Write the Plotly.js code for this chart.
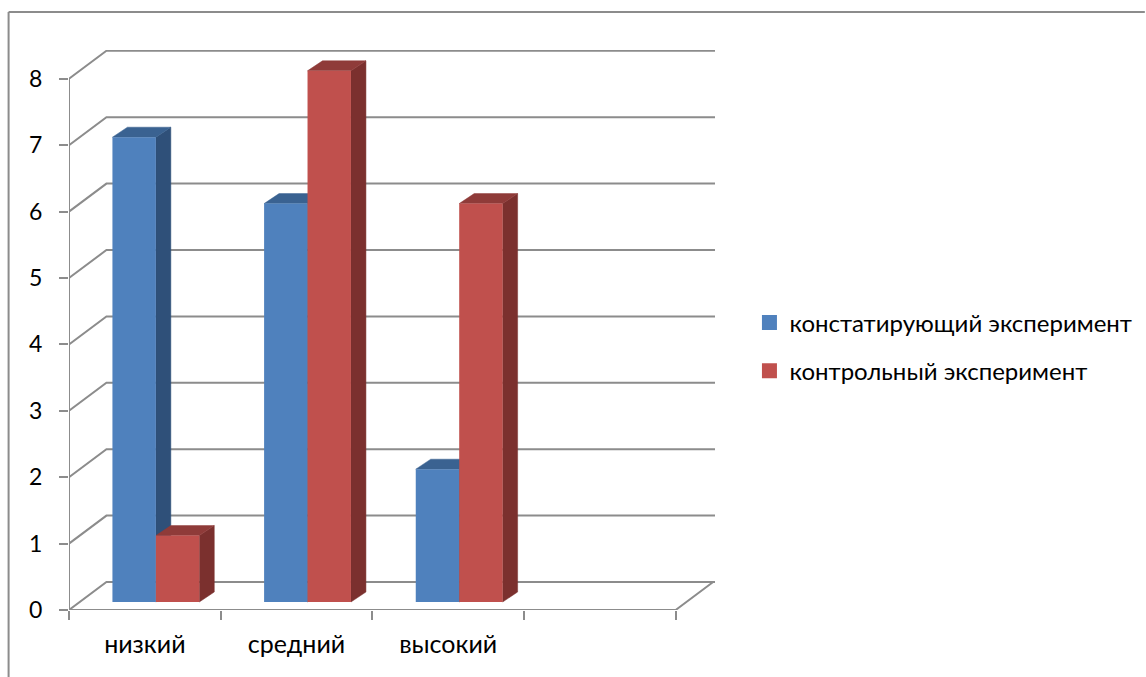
<!DOCTYPE html>
<html><head><meta charset="utf-8">
<script src="https://cdn.plot.ly/plotly-3.0.1.min.js"></script>
<style>html,body{margin:0;padding:0;background:#fff}</style></head>
<body><div id="chart" style="width:1146px;height:677px"></div>
<script>
const categories = ['низкий', 'средний', 'высокий'];
const seriesNames = ['констатирующий эксперимент', 'контрольный эксперимент'];
const series1 = [7, 6, 2];
const series2 = [1, 8, 6];
const yTicks = [0, 1, 2, 3, 4, 5, 6, 7, 8];
const xTickEdges = [0, 1, 2, 3, 4];
const frontColors = ['#4F81BD', '#C0504D'];
const topColors = ['#3A6291', '#8F3B39'];
const sideColors = ['#2F5079', '#7B302E'];

const GRID = '#8C8C8C';
const pxX = 151.9, pxY = 66.4;
const W = 647, H = 560;
const xMax = W / pxX, yMax = H / pxY;
const wallDx = 37.5 / pxX, wallDy = 28 / pxY;
const barW = 43.5 / pxX, barStart = 43.5 / pxX, barBase = 8 / pxY;
const depthDx = 15 / pxX, depthDy = 10 / pxY;

const traces = [];
function line(x, y) {
  traces.push({type:'scatter', mode:'lines', x, y, showlegend:false, hoverinfo:'skip', cliponaxis:false,
    line:{color:GRID, width:2}});
}
yTicks.forEach(v => line([0, wallDx, xMax], [v, v + wallDy, v + wallDy]));
line([0, 0], [0, yTicks[yTicks.length - 1]]);
line([0, 4, 4 + wallDx], [0, 0, wallDy]);

function poly(x, y, color) {
  traces.push({type:'scatter', mode:'lines', x, y, fill:'toself', fillcolor:color, showlegend:false,
    hoverinfo:'skip', cliponaxis:false, line:{color:color, width:0.5}});
}
[series1, series2].forEach((vals, s) => {
  vals.forEach((v, i) => {
    const l = i + barStart + s * barW, r = l + barW, t = v + barBase;
    poly([r, r + depthDx, r + depthDx, r, r], [barBase, barBase + depthDy, t + depthDy, t, barBase], sideColors[s]);
    poly([l, l + depthDx, r + depthDx, r, l], [t, t + depthDy, t + depthDy, t, t], topColors[s]);
  });
});
[series1, series2].forEach((vals, s) => {
  traces.push({type:'bar', name:seriesNames[s], legendgroup:'g' + s, showlegend:false,
    x: vals.map((_, i) => i + barStart + s * barW + barW / 2), y: vals, base: barBase, width: barW,
    xaxis:'x2', yaxis:'y2', marker:{color:frontColors[s], line:{width:0}}, hoverinfo:'y'});
  traces.push({type:'scatter', mode:'markers', name:seriesNames[s], legendgroup:'g' + s, x:[null], y:[null],
    xaxis:'x2', yaxis:'y2', marker:{symbol:'square', size:15, color:frontColors[s]}, hoverinfo:'skip'});
});

const paperX = px => (px - 68.5) / W;
const paperY = py => (610 - py) / H;
const layout = {
  width:1146, height:677, paper_bgcolor:'#fff', plot_bgcolor:'#fff', showlegend:true,
  margin:{l:68.5, r:430.5, t:50, b:67, autoexpand:false},
  font:{family:'Lato, "Open Sans", sans-serif', size:24, color:'#000'},
  barmode:'overlay',
  xaxis:{range:[0, xMax], tickmode:'array',
    tickvals: categories.map((_, i) => i + 0.5), ticktext: categories, ticks:'', showgrid:false, zeroline:false, showline:false,
    ticklabelstandoff:17,
    minor:{tickmode:'array', tickvals:xTickEdges, ticks:'outside', ticklen:9, tickwidth:2, tickcolor:GRID, showgrid:false},
    tickfont:{size:25}},
  yaxis:{range:[0, yMax], tickmode:'array', tickvals:yTicks, ticks:'outside', ticklen:9, tickwidth:2, tickcolor:GRID,
    showgrid:false, zeroline:false, showline:false, ticklabelstandoff:12, tickfont:{size:23}},
  xaxis2:{range:[0, xMax], overlaying:'x', visible:false},
  yaxis2:{range:[0, yMax], overlaying:'y', visible:false},
  legend:{x:paperX(750), y:paperY(300.5), xanchor:'left', yanchor:'top', tracegroupgap:14, itemwidth:30,
    font:{size:24}, bgcolor:'rgba(0,0,0,0)'},
  shapes:[
    {type:'line', xref:'paper', yref:'paper', x0:paperX(8), x1:paperX(1146), y0:paperY(12), y1:paperY(12), line:{color:GRID, width:2}},
    {type:'line', xref:'paper', yref:'paper', x0:paperX(8), x1:paperX(8), y0:paperY(12), y1:paperY(677), line:{color:GRID, width:2}}
  ]
};
Plotly.newPlot('chart', traces, layout, {displayModeBar:false, staticPlot:true});
</script></body></html>
